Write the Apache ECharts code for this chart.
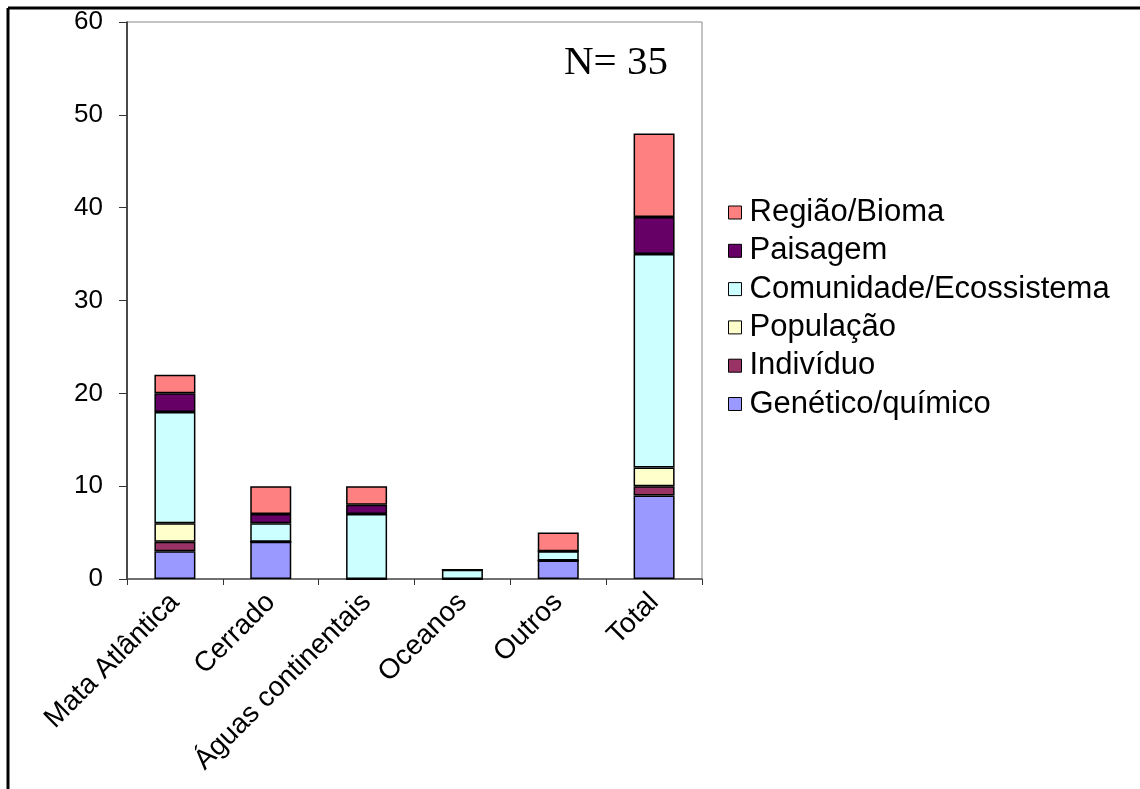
<!DOCTYPE html>
<html>
<head>
<meta charset="utf-8">
<script src="https://cdn.jsdelivr.net/npm/echarts@6/dist/echarts.min.js"></script>
<style>
html,body{margin:0;padding:0;background:#fff;}
#chart{width:1140px;height:789px;}
</style>
</head>
<body>
<div id="chart"></div>
<script>
const categories = ['Mata Atlântica', 'Cerrado', 'Águas continentais', 'Oceanos', 'Outros', 'Total'];
const seriesNames = ['Genético/químico', 'Indivíduo', 'População', 'Comunidade/Ecossistema', 'Paisagem', 'Região/Bioma'];
const genetico = [3, 4, 0, 0, 2, 9];
const individuo = [1, 0, 0, 0, 0, 1];
const populacao = [2, 0, 0, 0, 0, 2];
const comunidade = [12, 2, 7, 1, 1, 23];
const paisagem = [2, 1, 1, 0, 0, 4];
const regiao = [2, 3, 2, 0, 2, 9];
const yTicks = [0, 10, 20, 30, 40, 50, 60];
const colors = ['#9999FF', '#993366', '#FFFFCC', '#CCFFFF', '#660066', '#FF8080'];
const values = [genetico, individuo, populacao, comunidade, paisagem, regiao];

const chart = echarts.init(document.getElementById('chart'));
const font = 'Liberation Sans, Arial, sans-serif';
chart.setOption({
  animation: false,
  backgroundColor: '#ffffff',
  grid: {left: 127, right: 438, top: 22, bottom: 210, show: true, borderColor: '#888', borderWidth: 1, backgroundColor: 'transparent'},
  legend: {
    orient: 'vertical', left: 723, top: 192,
    itemWidth: 13, itemHeight: 13, itemGap: 7.3,
    data: seriesNames.slice().reverse(),
    icon: 'rect',
    textStyle: {fontFamily: font, fontSize: 31, color: '#000', lineHeight: 30, padding: [0,0,0,3]},
    itemStyle: {borderColor: '#000', borderWidth: 1}
  },
  xAxis: {
    type: 'category', data: categories,
    axisLine: {lineStyle: {color: '#555', width: 1.5}},
    axisTick: {show: true, length: 6, lineStyle: {color: '#333'}},
    axisLabel: {rotate: 45, fontFamily: font, fontSize: 28, color: '#000', margin: 19, interval: 0}
  },
  yAxis: {
    type: 'value', min: yTicks[0], max: yTicks[yTicks.length-1], interval: 10,
    axisLine: {show: true, lineStyle: {color: '#222', width: 1.5}},
    axisTick: {show: true, length: 8, lineStyle: {color: '#333'}},
    splitLine: {show: false},
    axisLabel: {fontFamily: font, fontSize: 26, color: '#000', margin: 24}
  },
  series: seriesNames.map((n, i) => ({
    name: n, type: 'bar', stack: 'all', data: values[i], barWidth: 41,
    itemStyle: {color: colors[i], borderColor: '#000', borderWidth: 1.5}
  })),
  graphic: [
    {type: 'text', left: 564, top: 43, style: {text: 'N= 35', fontFamily: 'Liberation Serif, Times New Roman, serif', fontSize: 41, fill: '#000'}},
    {type: 'line', shape: {x1: 8, y1: 8, x2: 1140, y2: 8}, style: {stroke: '#000', lineWidth: 3}},
    {type: 'line', shape: {x1: 8, y1: 8, x2: 8, y2: 789}, style: {stroke: '#000', lineWidth: 3}}
  ]
});
</script>
</body>
</html>
